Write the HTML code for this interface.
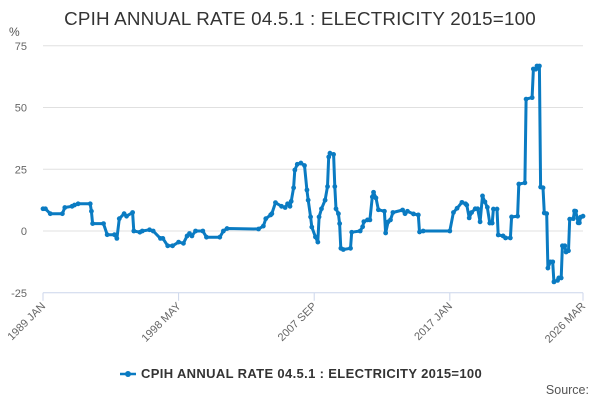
<!DOCTYPE html>
<html><head><meta charset="utf-8">
<style>
body{margin:0;background:#fff;font-family:"Liberation Sans",Arial,sans-serif;}
svg text{font-family:"Liberation Sans",Arial,sans-serif;}
</style></head>
<body>
<svg id="chart" width="600" height="400" viewBox="0 0 600 400" xmlns="http://www.w3.org/2000/svg">
<text x="300" y="25" text-anchor="middle" font-size="18.8" letter-spacing="0.2" fill="#333">CPIH ANNUAL RATE 04.5.1 : ELECTRICITY 2015=100</text>
<text x="9" y="36" font-size="12" fill="#555">%</text>
<g id="grid"></g>
<g id="ylabels"></g>
<g id="xlabels"></g>
<g id="series"></g>
<g>
<line x1="120" y1="374" x2="136" y2="374" stroke="#0a7bc2" stroke-width="2.5"/>
<circle cx="128" cy="374" r="3" fill="#0a7bc2"/>
<text x="141" y="378" font-size="13" letter-spacing="0.35" font-weight="bold" fill="#333">CPIH ANNUAL RATE 04.5.1 : ELECTRICITY 2015=100</text>
</g>
<text x="589" y="394" text-anchor="end" font-size="12.5" fill="#555">Source:</text>
</svg>
<script>
const months=[0,2,6,16,18,24,26,29,39,40,41,50,53,59,61,63,67,69,74,75,80,82,88,91,97,99,103,107,112,116,119,121,123,126,132,135,146,149,152,178,182,184,188,189,192,197,200,202,204,205,207,208,210,213,216,218,219,221,222,225,227,228,230,233,235,236,237,240,241,242,244,245,246,248,254,255,262,264,265,268,270,272,273,275,277,282,283,285,287,289,297,299,301,306,310,311,314,336,339,342,346,349,350,352,354,357,359,361,363,365,367,369,371,372,375,376,380,382,386,387,392,393,398,399,404,405,407,408,410,411,413,414,416,417,419,421,422,425,426,428,429,431,432,434,435,438,439,440,442,443,444,446];
const values=[9,9,7,7,9.5,10,10.5,11,11,8,3,3,-1.5,-1.5,-3,5,7,6,7.5,0,-0.5,0,0.5,0,-3,-3,-6,-6,-4.5,-5,-2,-1,-2,0,0,-2.5,-2.5,0,1,0.8,2,5,6.5,7,11.5,10,9.5,11,10,12,17.5,24.7,27,27.5,26.5,16.6,12.5,5.7,1.6,-2.4,-4.5,5.7,9,12.5,18,30,31.5,31,18,9,7,3,-7,-7.5,-7,-0.5,0,1.7,3.8,4.5,4.5,13.8,15.7,13.4,8.6,8,-0.8,3.7,4.5,7.5,8.5,7,8,6.9,6.5,-0.4,0,0,7.5,9.2,11.6,11,10.5,5.3,7.5,9,9,3.7,14.2,11.8,9.6,3.2,3.2,8.9,8.9,-1.6,-2,-2.8,-2.8,5.7,6,19,19.5,53.4,54,65.6,65.5,66.8,66.8,17.8,17.5,7.3,7,-15,-12.5,-12.5,-20.6,-20,-19,-19,-6,-6,-8.5,-8,4.8,5,8.1,8,3.3,3.3,5.6,6];
const yTicks=[75,50,25,0,-25];
const xTickMonths=[0,112,224,336,446];
const xTickLabels=["1989 JAN","1998 MAY","2007 SEP","2017 JAN","2026 MAR"];
const NS="http://www.w3.org/2000/svg";
const X0=43,X1=583,Y0=231,PX=61.75/25,NMAX=446;
function xs(m){return X0+(X1-X0)*m/NMAX;}
function ys(v){return Y0-v*PX;}
function mk(tag,attrs,parent){const e=document.createElementNS(NS,tag);for(const k in attrs)e.setAttribute(k,attrs[k]);parent.appendChild(e);return e;}
const grid=document.getElementById('grid'),yl=document.getElementById('ylabels'),xl=document.getElementById('xlabels'),ser=document.getElementById('series');
yTicks.forEach(t=>{
  const l=mk('line',{x1:X0,x2:X1,y1:ys(t),y2:ys(t),stroke:t===-25?'#ccd6eb':'#e0e0e0','stroke-width':1},grid);
  
  
  const tx=mk('text',{x:27,y:ys(t)+4,'text-anchor':'end','font-size':11,fill:'#666'},yl);
  tx.textContent=t;
  
  
});
xTickMonths.forEach((m,i)=>{
  const x=xs(m);
  const tk=mk('line',{x1:x,x2:x,y1:ys(-25),y2:ys(-25)+8,stroke:'#ccd6eb'},grid);
  
  
  const tx=mk('text',{x:x+3,y:ys(-25)+14,'text-anchor':'end','font-size':11,fill:'#666',transform:`rotate(-45 ${x+3} ${ys(-25)+14})`},xl);
  tx.textContent=xTickLabels[i];
  
  
});
const d=months.map((m,i)=>(i?'L':'M')+xs(m).toFixed(1)+' '+ys(values[i]).toFixed(1)).join(' ');
const p=mk('path',{d:d,fill:'none',stroke:'#0a7bc2','stroke-width':3,'stroke-linejoin':'round'},ser);


months.forEach((m,i)=>{
  const c=mk('circle',{cx:xs(m),cy:ys(values[i]),r:2.4,fill:'#0a7bc2'},ser);
  
  
});
</script>
</body></html>
